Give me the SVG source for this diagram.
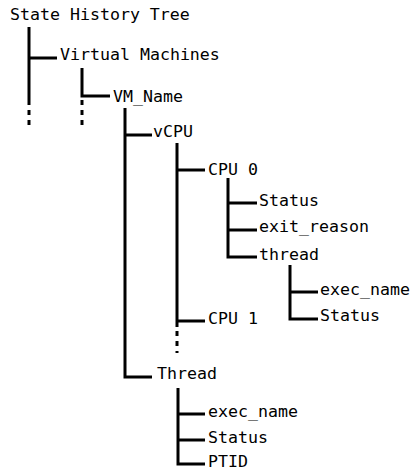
<svg xmlns="http://www.w3.org/2000/svg" width="411" height="471" viewBox="0 0 411 471">
  <style>
    .lbl { font-family: "DejaVu Sans Mono", "Liberation Mono", monospace; font-size: 16.6px; fill: #000; }
    .ln { fill: none; stroke: #000; stroke-width: 3; stroke-linecap: butt; stroke-linejoin: miter; }
    .dash { fill: none; stroke: #000; stroke-width: 3; stroke-dasharray: 5 5; }
  </style>
  <rect width="411" height="471" fill="#fff"/>

  <g id="connectors">
    <!-- root trunk -->
    <path class="ln" d="M29 27 V105 M29 58 H57"/>
    <path class="dash" d="M29 110 V125"/>
    <!-- Virtual Machines -->
    <path class="ln" d="M82 68 V96 H110"/>
    <path class="dash" d="M82 100 V125"/>
    <!-- VM_Name -->
    <path class="ln" d="M125 108 V377 H152 M125 135 H152"/>
    <!-- vCPU -->
    <path class="ln" d="M177 143 V327 M177 170 H205 M177 321 H205"/>
    <path class="dash" d="M177 331 V353"/>
    <!-- CPU 0 -->
    <path class="ln" d="M228 178 V257 H257 M228 203 H257 M228 230 H257"/>
    <!-- thread -->
    <path class="ln" d="M290 265 V319 H318 M290 292 H318"/>
    <!-- Thread -->
    <path class="ln" d="M178 388 V464 H205 M178 414 H205 M178 440 H205"/>
  </g>

  <g id="node-root"><text class="lbl" x="10" y="20">State History Tree</text></g>
  <g id="node-vms"><text class="lbl" x="60" y="60">Virtual Machines</text></g>
  <g id="node-vmname"><text class="lbl" x="113" y="102">VM_Name</text></g>
  <g id="node-vcpu"><text class="lbl" x="153" y="137">vCPU</text></g>
  <g id="node-cpu0"><text class="lbl" x="208" y="175">CPU 0</text></g>
  <g id="node-cpu0-status"><text class="lbl" x="259" y="206">Status</text></g>
  <g id="node-cpu0-exit"><text class="lbl" x="259" y="232">exit_reason</text></g>
  <g id="node-cpu0-thread"><text class="lbl" x="259" y="260">thread</text></g>
  <g id="node-cpu0-thread-exec"><text class="lbl" x="320" y="295">exec_name</text></g>
  <g id="node-cpu0-thread-status"><text class="lbl" x="320" y="321">Status</text></g>
  <g id="node-cpu1"><text class="lbl" x="208" y="324">CPU 1</text></g>
  <g id="node-thread"><text class="lbl" x="157" y="379">Thread</text></g>
  <g id="node-thread-exec"><text class="lbl" x="208" y="417">exec_name</text></g>
  <g id="node-thread-status"><text class="lbl" x="208" y="443">Status</text></g>
  <g id="node-thread-ptid"><text class="lbl" x="208" y="467">PTID</text></g>
</svg>
